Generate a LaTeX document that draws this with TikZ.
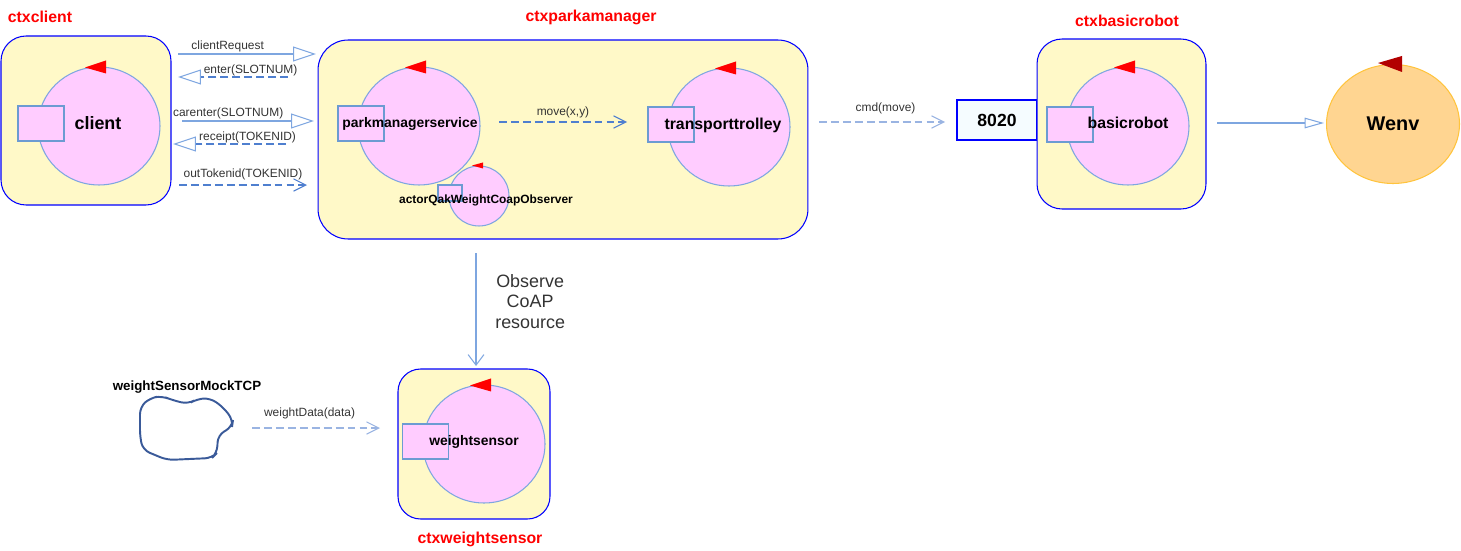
\documentclass[tikz,border=0pt]{standalone}
\usepackage{fontspec}
\setmainfont{Liberation Sans}
\usepackage{tikz}
\usetikzlibrary{arrows.meta,shapes.geometric,calc}

\definecolor{ctxfill}{HTML}{FFF9C8}
\definecolor{actfill}{HTML}{FFCCFF}
\definecolor{actline}{HTML}{7EA6E0}
\definecolor{portline}{HTML}{6C9BD2}
\definecolor{msgsolid}{HTML}{7EA6E0}
\definecolor{msgdash}{HTML}{4F7FCF}
\definecolor{msglight}{HTML}{9AB4E2}
\definecolor{lblgray}{HTML}{333333}
\definecolor{wenvfill}{HTML}{FFD591}
\definecolor{wenvline}{HTML}{FFC43D}
\definecolor{wenvtri}{HTML}{B20000}
\definecolor{portbg}{HTML}{F5FCFF}
\definecolor{mockline}{HTML}{3A5A99}

\begin{document}
\begin{tikzpicture}[x=0.02cm,y=-0.02cm,
    ctxbox/.style={draw=blue,line width=0.6pt,fill=ctxfill,rounded corners=0.5cm},
    ctxname/.style={text=red,font=\fontsize{9}{10}\selectfont\bfseries,inner sep=0pt},
    actor/.style={ellipse,draw=actline,line width=0.6pt,fill=actfill,minimum width=2.44cm,minimum height=2.36cm,inner sep=0pt},
    port/.style={draw=portline,line width=0.6pt,fill=actfill,minimum width=0.92cm,minimum height=0.7cm,inner sep=0pt},
    actname/.style={font=\fontsize{9}{10}\selectfont\bfseries,inner sep=0pt},
    msg/.style={font=\fontsize{6.8}{8}\selectfont,text=lblgray,inner sep=1pt,anchor=south},
    sync/.style={msgsolid,line width=0.6pt,-{Triangle[open,length=13pt,width=8.5pt]}},
    reply/.style={msgdash,line width=0.6pt,dash pattern=on 4.5pt off 2.3pt,-{Triangle[open,length=13pt,width=8.5pt,color=msgsolid]}},
    dispatch/.style={msgdash,line width=0.6pt,dash pattern=on 4.5pt off 2.3pt,-{Straight Barb[length=7pt,width=7pt]}},
  ]
  \useasboundingbox (0,0) rectangle (1461,551);

  % contexts
  \node[ctxbox,minimum width=3.4cm,minimum height=3.38cm] (ctxclient) at (86,120.5) {};
  \node[ctxname] (ctxclient-lbl) at (40,17) {ctxclient};

  \node[ctxbox,rounded corners=0.6cm,minimum width=9.8cm,minimum height=3.98cm] (ctxpark) at (563,139.5) {};
  \node[ctxname] (ctxpark-lbl) at (591,17) {ctxparkamanager};

  \node[draw=blue,line width=0.6pt,fill=portbg,minimum width=1.6cm,minimum height=0.8cm,font=\fontsize{10}{11}\selectfont\bfseries] (p8020) at (997,120) {8020};
  \node[ctxbox,minimum width=3.38cm,minimum height=3.4cm] (ctxrobot) at (1121.5,124) {};
  \node[ctxname] (ctxrobot-lbl) at (1127,21) {ctxbasicrobot};

  \node[ctxbox,rounded corners=0.45cm,minimum width=3.04cm,minimum height=3cm] (ctxsensor) at (474,444) {};
  \node[ctxname] (ctxsensor-lbl) at (480,539) {ctxweightsensor};

  % actors
  \node[actor] (client) at (99,126) {};
  \node[port] (client-port) at (41,123.5) {};
  \node[actname,font=\fontsize{10.2}{11}\selectfont\bfseries] (client-lbl) at (98,123) {client};

  \node[actor] (pms) at (419,126) {};
  \node[port] (pms-port) at (361,123.5) {};
  \node[actname,font=\fontsize{7.9}{9}\selectfont\bfseries] (pms-lbl) at (410,124) {parkmanagerservice};

  \node[actor,minimum width=1.2cm,minimum height=1.2cm] (observer) at (479,196) {};
  \node[port,minimum width=0.48cm,minimum height=0.32cm] (observer-port) at (450,193) {};
  \node[actname,font=\fontsize{6.8}{8}\selectfont\bfseries] (observer-lbl) at (486,200) {actorQakWeightCoapObserver};

  \node[actor] (trolley) at (729,127) {};
  \node[port] (trolley-port) at (671,124.5) {};
  \node[actname] (trolley-lbl) at (723,125) {transporttrolley};

  \node[actor] (robot) at (1128,126) {};
  \node[port] (robot-port) at (1070,124.5) {};
  \node[actname] (robot-lbl) at (1128,123) {basicrobot};

  \node[actor] (wsensor) at (484,444) {};
  \node[port] (wsensor-port) at (425.5,441.5) {};
  \node[actname,font=\fontsize{7.9}{9}\selectfont\bfseries] (wsensor-lbl) at (474,442) {weightsensor};

  \node[ellipse,draw=wenvline,line width=0.6pt,fill=wenvfill,minimum width=2.66cm,minimum height=2.38cm,font=\fontsize{11.3}{12}\selectfont\bfseries] (wenv) at (1393,124) {Wenv};

  % actor marks
  \foreach \a in {client,pms,trolley,robot,wsensor}
    \fill[red] ($(\a.north)+(-14,1)$) -- ($(\a.north)+(7,-6)$) -- ($(\a.north)+(7,7)$) -- cycle;
  \fill[red] ($(observer.north)+(-7,0)$) -- ($(observer.north)+(4,-3)$) -- ($(observer.north)+(4,3)$) -- cycle;
  \fill[wenvtri] ($(wenv.north)+(-15,-1)$) -- ($(wenv.north)+(9,-8)$) -- ($(wenv.north)+(9,8)$) -- cycle;

  % mock sensor
  \node[font=\fontsize{7.6}{9}\selectfont\bfseries,inner sep=0pt] (mock-lbl) at (187,387) {weightSensorMockTCP};
  \draw[mockline,line width=1.1pt,rounded corners=4pt] (140,407) -- (150,398) -- (162,396) -- (172,400) -- (188,404)
    -- (197,399) -- (210,398) -- (223,407) -- (233,420) -- (232,427) -- (218,435) -- (217,453) -- (212,458)
    -- (167,460) -- (143,450) -- (140,437) -- cycle;

  % message ends
  \coordinate (req-a) at (178,54);   \coordinate (req-b) at (316,54);
  \coordinate (ent-a) at (288,77);   \coordinate (ent-b) at (178,77);
  \coordinate (car-a) at (182,121);  \coordinate (car-b) at (314,121);
  \coordinate (rec-a) at (286,144);  \coordinate (rec-b) at (173,144);
  \coordinate (out-a) at (179,185);  \coordinate (out-b) at (307,185);
  \coordinate (mov-a) at (499,122);  \coordinate (mov-b) at (627,122);
  \coordinate (cmd-a) at (819,122);  \coordinate (cmd-b) at (945,122);
  \coordinate (env-a) at (1217,123); \coordinate (env-b) at (1324,123);
  \coordinate (obs-a) at (476,253);  \coordinate (obs-b) at (476,366);
  \coordinate (wd-a) at (252,428);   \coordinate (wd-b) at (380,428);

  \draw[sync] (req-a) -- (req-b) node[msg,pos=0.36] {clientRequest};
  \draw[reply] (ent-a) -- (ent-b) node[msg,pos=0.34,inner sep=0pt] {enter(SLOTNUM)};
  \draw[sync] (car-a) -- (car-b) node[msg,pos=0.35] {carenter(SLOTNUM)};
  \draw[reply] (rec-a) -- (rec-b) node[msg,pos=0.34,inner sep=0pt] {receipt(TOKENID)};
  \draw[dispatch] (out-a) -- (out-b) node[msg,midway,yshift=1.5pt] {outTokenid(TOKENID)};
  \draw[dispatch] (mov-a) -- (mov-b) node[msg,midway,yshift=1pt] {move(x,y)};
  \draw[dispatch,msglight] (cmd-a) -- (cmd-b) node[msg,midway,xshift=2pt,yshift=3pt] {cmd(move)};
  \draw[sync,-{Triangle[open,length=11pt,width=6pt]}] (env-a) -- (env-b);
  \draw[msgsolid,line width=0.6pt,-{Straight Barb[length=6pt,width=9pt]}] (obs-a) -- (obs-b)
    node[pos=0.43,anchor=west,xshift=0.34cm,align=center,text=lblgray,font=\fontsize{10.2}{11.9}\selectfont,inner sep=1pt] {Observe\\CoAP\\resource};
  \draw[dispatch,msglight] (wd-a) -- (wd-b) node[msg,pos=0.45,yshift=4pt] {weightData(data)};
\end{tikzpicture}
\end{document}
